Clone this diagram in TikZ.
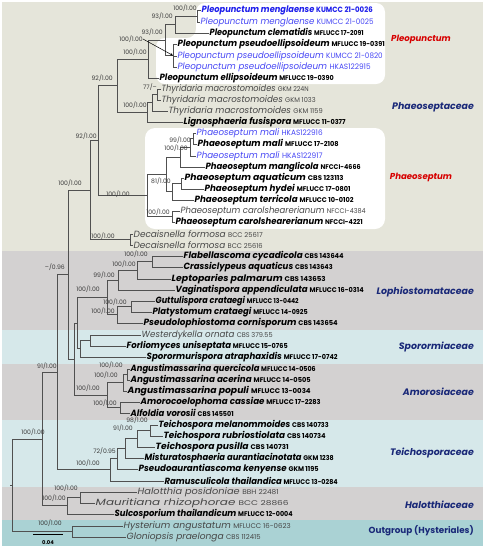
\documentclass[tikz,border=0pt]{standalone}
\usepackage{fontspec}
\usepackage{graphicx}
\setmainfont{Poppins}
\usetikzlibrary{arrows.meta}
\definecolor{bandbeige}{RGB}{229,229,218}
\definecolor{bandgray}{RGB}{211,209,209}
\definecolor{bandblue}{RGB}{214,232,234}
\definecolor{bandteal}{RGB}{170,210,212}
\definecolor{brc}{RGB}{80,80,80}
\definecolor{bsc}{RGB}{60,60,60}
\definecolor{blueB}{RGB}{30,30,235}
\definecolor{blueN}{RGB}{70,70,245}
\definecolor{grayt}{RGB}{70,70,70}
\definecolor{redc}{RGB}{215,0,0}
\definecolor{navy}{RGB}{25,40,120}
\newcommand\Sp[2]{\textit{#1} {\fontsize{6.8}{8}\selectfont #2}}
\newcommand\SpB[2]{\textit{#1} {\fontsize{7.6}{8}\selectfont #2}}
\newcommand\Fit[2]{\resizebox{#1pt}{\height}{#2}}
\begin{document}
\begin{tikzpicture}[x=1pt,y=-1pt,
  br/.style={draw=brc, line width=0.75pt},
  lf/.style={anchor=west, inner sep=0.5pt, font=\fontsize{9}{10}\selectfont},
  lfb/.style={lf, font=\fontsize{9}{10}\selectfont\bfseries},
  lfblue/.style={lf, text=blueN},
  lfblueb/.style={lfb, text=blueB},
  lfgray/.style={lf, text=grayt},
  bs/.style={anchor=east, inner sep=0pt, font=\fontsize{6.1}{7}\selectfont, text=bsc},
  fam/.style={anchor=east, inner sep=0pt, font=\fontsize{9.4}{10}\selectfont\bfseries\itshape, text=navy},
  gen/.style={inner sep=0pt, font=\fontsize{8.6}{10}\selectfont\bfseries\itshape, text=redc}]
\useasboundingbox (0,0) rectangle (487,550);
% background bands
\fill[white] (0,0) rectangle (487,550);
\fill[bandbeige] (2,2) rectangle (483,251);
\fill[bandgray] (2,251) rectangle (483,330);
\fill[bandblue] (2,330) rectangle (483,364);
\fill[bandgray] (2,364) rectangle (483,420);
\fill[bandblue] (2,420) rectangle (483,487);
\fill[bandgray] (2,487) rectangle (483,520);
\fill[bandteal] (2,520) rectangle (483,546);
% white highlight boxes
\fill[white, rounded corners=9pt] (196,3) -- (385,3) -- (385,84) -- (156,84) -- (156,38) -- (196,38) -- cycle;
\fill[white, rounded corners=10pt] (145,128) rectangle (385,229);

% leaves
\node[lfblueb] (l1) at (201,10) {\Fit{171}{\SpB{Pleopunctum menglaense}{KUMCC 21-0026}}};
\node[lfblue] (l2) at (200,22) {\Fit{173}{\SpB{Pleopunctum menglaense}{KUMCC 21-0025}}};
\node[lfb] (l3) at (209,33) {\Fit{154}{\Sp{Pleopunctum clematidis}{MFLUCC 17-2091}}};
\node[lfb] (l4) at (177,44) {\Fit{207}{\Sp{Pleopunctum pseudoellipsoideum}{MFLUCC 19-0391}}};
\node[lfblue] (l5) at (177,56) {\Fit{205}{\SpB{Pleopunctum pseudoellipsoideum}{KUMCC 21-0820}}};
\node[lfblue] (l6) at (177,67) {\Fit{193}{\SpB{Pleopunctum pseudoellipsoideum}{HKAS122915}}};
\node[lfb] (l7) at (159,78) {\Fit{174}{\Sp{Pleopunctum ellipsoideum}{MFLUCC 19-0390}}};
\node[lfgray] (l8) at (161,89) {\Fit{147}{\Sp{Thyridaria macrostomoides}{GKM 224N}}};
\node[lfgray] (l9) at (161,100) {\Fit{154}{\Sp{Thyridaria macrostomoides}{GKM 1033}}};
\node[lfgray] (l10) at (168,111) {\Fit{154}{\Sp{Thyridaria macrostomoides}{GKM 1159}}};
\node[lfb] (l11) at (183,122) {\Fit{162}{\Sp{Lignosphaeria fusispora}{MFLUCC 11-0377}}};
\node[lfblue] (l12) at (196,133) {\Fit{126}{\SpB{Phaeoseptum mali}{HKAS122916}}};
\node[lfb] (l13) at (197,144) {\Fit{141}{\Sp{Phaeoseptum mali}{MFLUCC 17-2108}}};
\node[lfblue] (l14) at (196,156) {\Fit{126}{\SpB{Phaeoseptum mali}{HKAS122917}}};
\node[lfb] (l15) at (205,167) {\Fit{155}{\Sp{Phaeoseptum manglicola}{NFCCI-4666}}};
\node[lfb] (l16) at (184,178) {\Fit{159}{\Sp{Phaeoseptum aquaticum}{CBS 123113}}};
\node[lfb] (l17) at (204,189) {\Fit{146}{\Sp{Phaeoseptum hydei}{MFLUCC 17-0801}}};
\node[lfb] (l18) at (194,200) {\Fit{159}{\Sp{Phaeoseptum terricola}{MFLUCC 10-0102}}};
\node[lfgray] (l19) at (180,211) {\Fit{185}{\Sp{Phaeoseptum carolshearerianum}{NFCCI-4384}}};
\node[lfb] (l20) at (175,222) {\Fit{187}{\Sp{Phaeoseptum carolshearerianum}{NFCCI-4221}}};
\node[lfgray] (l21) at (133,234) {\Fit{129}{\Sp{Decaisnella formosa}{BCC 25617}}};
\node[lfgray] (l22) at (133,245) {\Fit{129}{\Sp{Decaisnella formosa}{BCC 25616}}};
\node[lfb] (l23) at (183,256) {\Fit{160}{\Sp{Flabellascoma cycadicola}{CBS 143644}}};
\node[lfb] (l24) at (183,267) {\Fit{149}{\Sp{Crassiclypeus aquaticus}{CBS 143643}}};
\node[lfb] (l25) at (171,279) {\Fit{154}{\Sp{Leptoparies palmarum}{CBS 143653}}};
\node[lfb] (l26) at (175,290) {\Fit{188}{\Sp{Vaginatispora appendiculata}{MFLUCC 16-0314}}};
\node[lfb] (l27) at (155,301) {\Fit{143}{\Sp{Guttulispora crataegi}{MFLUCC 13-0442}}};
\node[lfb] (l28) at (152,312) {\Fit{155}{\Sp{Platystomum crataegi}{MFLUCC 14-0925}}};
\node[lfb] (l29) at (143,323) {\Fit{194}{\Sp{Pseudolophiostoma cornisporum}{CBS 143654}}};
\node[lfgray] (l30) at (141,335) {\Fit{131}{\Sp{Westerdykella ornata}{CBS 379.55}}};
\node[lfb] (l31) at (126,346) {\Fit{161}{\Sp{Forliomyces uniseptata}{MFLUCC 15-0765}}};
\node[lfb] (l32) at (146,357) {\Fit{191}{\Sp{Sporormurispora atraphaxidis}{MFLUCC 17-0742}}};
\node[lfb] (l33) at (130,369) {\Fit{185}{\Sp{Angustimassarina quercicola}{MFLUCC 14-0506}}};
\node[lfb] (l34) at (130,380) {\Fit{180}{\Sp{Angustimassarina acerina}{MFLUCC 14-0505}}};
\node[lfb] (l35) at (127,391) {\Fit{183}{\Sp{Angustimassarina populi}{MFLUCC 13-0034}}};
\node[lfb] (l36) at (140,402) {\Fit{180}{\Sp{Amorocoelophoma cassiae}{MFLUCC 17-2283}}};
\node[lfb] (l37) at (130,413) {\Fit{103}{\Sp{Alfoldia vorosii}{CBS 145501}}};
\node[lfb] (l38) at (158,425) {\Fit{170}{\Sp{Teichospora melanommoides}{CBS 140733}}};
\node[lfb] (l39) at (163,436) {\Fit{162}{\Sp{Teichospora rubriostiolata}{CBS 140734}}};
\node[lfb] (l40) at (155,447) {\Fit{133}{\Sp{Teichospora pusilla}{CBS 140731}}};
\node[lfb] (l41) at (144,458) {\Fit{189}{\Sp{Misturatosphaeria aurantiacinotata}{GKM 1238}}};
\node[lfb] (l42) at (138,469) {\Fit{180}{\Sp{Pseudoaurantiascoma kenyense}{GKM 1195}}};
\node[lfb] (l43) at (164,481) {\Fit{173}{\Sp{Ramusculicola thailandica}{MFLUCC 13-0284}}};
\node[lfgray] (l44) at (137,492) {\Fit{141}{\Sp{Halotthia posidoniae}{BBH 22481}}};
\node[lfgray] (l45) at (95,503) {\Fit{193}{\Sp{Mauritiana rhizophorae}{BCC 28866}}};
\node[lfb] (l46) at (114,514) {\Fit{178}{\Sp{Sulcosporium thailandicum}{MFLUCC 12-0004}}};
\node[lfgray] (l47) at (123,526) {\Fit{167}{\Sp{Hysterium angustatum}{MFLUCC 16-0623}}};
\node[lfgray] (l48) at (126,537) {\Fit{134}{\Sp{Gloniopsis praelonga}{CBS 112415}}};

% internal nodes
\coordinate (p1) at (197,16);
\coordinate (p2) at (175,24.5);
\coordinate (ps2) at (173,55.5);
\coordinate (p3) at (165,40);
\coordinate (P) at (148,59);
\coordinate (t1) at (157,94.5);
\coordinate (t2) at (152,102.75);
\coordinate (T) at (147,112.4);
\coordinate (Q) at (117,85.7);
\coordinate (m1) at (193,138.5);
\coordinate (m2) at (190,147.25);
\coordinate (m3) at (180,157.1);
\coordinate (a1) at (181,183.5);
\coordinate (a2) at (172,191.75);
\coordinate (mm) at (166,174.4);
\coordinate (c1) at (172,216.5);
\coordinate (S) at (147,195.45);
\coordinate (R) at (98,140.6);
\coordinate (dc) at (130,239.5);
\coordinate (N90) at (90,190);
\coordinate (A) at (152,261.5);
\coordinate (B) at (137,270.25);
\coordinate (C) at (118,280.1);
\coordinate (D) at (131,306.5);
\coordinate (E) at (117,314.75);
\coordinate (F) at (107,297.4);
\coordinate (s1) at (90,340.5);
\coordinate (s2) at (80,348.75);
\coordinate (N77) at (77,323.1);
\coordinate (am1) at (127,374.5);
\coordinate (am2) at (123,382.75);
\coordinate (am3) at (120,407.5);
\coordinate (Am) at (107,395.1);
\coordinate (N74) at (74,359.1);
\coordinate (N68) at (68,274.6);
\coordinate (te1) at (150,430.5);
\coordinate (te2) at (137,438.75);
\coordinate (te3) at (125,448.4);
\coordinate (te4) at (117,458.7);
\coordinate (te5) at (110,469.8);
\coordinate (N57) at (57,372.2);
\coordinate (h1) at (80,497.5);
\coordinate (h2) at (67,505.75);
\coordinate (Ning) at (42.7,439);
\coordinate (out) at (72,531.5);
\coordinate (root) at (12.7,485.2);
\coordinate (rstub) at (10,485.2);

% branches
\draw[br] (p1) |- (l1.west); \draw[br] (p1) |- (l2.west);
\draw[br] (p2) |- (p1); \draw[br] (p2) |- (l3.west);
\draw[br] (ps2) |- (l4.west); \draw[br] (ps2) |- (l5.west); \draw[br] (ps2) |- (l6.west);
\draw[br] (p3) |- (p2); \draw[br] (p3) |- (ps2);
\draw[br] (P) |- (p3); \draw[br] (P) |- (l7.west);
\draw[br] (t1) |- (l8.west); \draw[br] (t1) |- (l9.west);
\draw[br] (t2) |- (t1); \draw[br] (t2) |- (l10.west);
\draw[br] (T) |- (t2); \draw[br] (T) |- (l11.west);
\draw[br] (Q) |- (P); \draw[br] (Q) |- (T);
\draw[br] (m1) |- (l12.west); \draw[br] (m1) |- (l13.west);
\draw[br] (m2) |- (m1); \draw[br] (m2) |- (l14.west);
\draw[br] (m3) |- (m2); \draw[br] (m3) |- (l15.west);
\draw[br] (a1) |- (l16.west); \draw[br] (a1) |- (l17.west);
\draw[br] (a2) |- (a1); \draw[br] (a2) |- (l18.west);
\draw[br] (mm) |- (m3); \draw[br] (mm) |- (a2);
\draw[br] (c1) |- (l19.west); \draw[br] (c1) |- (l20.west);
\draw[br] (S) |- (mm); \draw[br] (S) |- (c1);
\draw[br] (R) |- (Q); \draw[br] (R) |- (S);
\draw[br] (dc) |- (l21.west); \draw[br] (dc) |- (l22.west);
\draw[br] (N90) |- (R); \draw[br] (N90) |- (dc);
\draw[br] (A) |- (l23.west); \draw[br] (A) |- (l24.west);
\draw[br] (B) |- (A); \draw[br] (B) |- (l25.west);
\draw[br] (C) |- (B); \draw[br] (C) |- (l26.west);
\draw[br] (D) |- (l27.west); \draw[br] (D) |- (l28.west);
\draw[br] (E) |- (D); \draw[br] (E) |- (l29.west);
\draw[br] (F) |- (C); \draw[br] (F) |- (E);
\draw[br] (s1) |- (l30.west); \draw[br] (s1) |- (l31.west);
\draw[br] (s2) |- (s1); \draw[br] (s2) |- (l32.west);
\draw[br] (N77) |- (F); \draw[br] (N77) |- (s2);
\draw[br] (am1) |- (l33.west); \draw[br] (am1) |- (l34.west);
\draw[br] (am2) |- (am1); \draw[br] (am2) |- (l35.west);
\draw[br] (am3) |- (l36.west); \draw[br] (am3) |- (l37.west);
\draw[br] (Am) |- (am2); \draw[br] (Am) |- (am3);
\draw[br] (N74) |- (N77); \draw[br] (N74) |- (Am);
\draw[br] (N68) |- (N90); \draw[br] (N68) |- (N74);
\draw[br] (te1) |- (l38.west); \draw[br] (te1) |- (l39.west);
\draw[br] (te2) |- (te1); \draw[br] (te2) |- (l40.west);
\draw[br] (te3) |- (te2); \draw[br] (te3) |- (l41.west);
\draw[br] (te4) |- (te3); \draw[br] (te4) |- (l42.west);
\draw[br] (te5) |- (te4); \draw[br] (te5) |- (l43.west);
\draw[br] (N57) |- (N68); \draw[br] (N57) |- (te5);
\draw[br] (h1) |- (l44.west); \draw[br] (h1) |- (l45.west);
\draw[br] (h2) |- (h1); \draw[br] (h2) |- (l46.west);
\draw[br] (Ning) |- (N57); \draw[br] (Ning) |- (h2);
\draw[br] (out) |- (l47.west); \draw[br] (out) |- (l48.west);
\draw[br] (root) |- (Ning); \draw[br] (root) |- (out);
\draw[br] (rstub) -- (root);

% support values
\node[bs] (bp1) at (197,8) {100/1.00};
\node[bs] (bp2) at (173,16) {93/1.00};
\node[bs] (bp3) at (163,32) {93/1.00};
\node[bs] (bps2) at (143,39) {100/1.00};
\draw[-{Stealth[length=3pt,width=2.4pt]}, line width=0.5pt, black] (bps2.east) -- (ps2);
\node[bs] (bP) at (147,52) {100/1.00};
\node[bs] (bt1) at (157,87) {77/--};
\node[bs] (bT) at (147,105) {100/1.00};
\node[bs] (bQ) at (113,78) {92/1.00};
\node[bs] (bm1) at (191,140) {99/1.00};
\node[bs] (bm3) at (188,148) {100/1.00};
\node[bs] (ba2) at (171,181) {81/1.00};
\node[bs] (bc1) at (170,212) {100/1.00};
\node[bs] (bS) at (130,194) {100/1.00};
\node[bs] (bR) at (97,136) {92/1.00};
\node[bs] (bN90) at (82,183) {100/1.00};
\node[bs] (bdc) at (115,236) {100/1.00};
\node[bs] (bA) at (148,254) {100/1.00};
\node[bs] (bB) at (136,264) {100/1.00};
\node[bs] (bC) at (115,275) {99/1.00};
\node[bs] (bF) at (100,289) {100/1.00};
\node[bs] (bD) at (127,302) {100/1.00};
\node[bs] (bE) at (115,311) {100/1.00};
\node[bs] (bam1) at (123,365) {100/1.00};
\node[bs] (bam2) at (118,375) {100/1.00};
\node[bs] (bAm) at (100,388) {100/1.00};
\node[bs] (bam3) at (117,403) {100/1.00};
\node[bs] (bte1) at (148,420) {98/1.00};
\node[bs] (bte2) at (133,428) {91/1.00};
\node[bs] (bte3) at (116,451) {72/0.95};
\node[bs] (bte5) at (100,463) {100/1.00};
\node[bs] (bN68) at (65,267) {--/0.96};
\node[bs] (bN57) at (57,366) {91/1.00};
\node[bs] (bh1) at (78,488) {100/1.00};
\node[bs] (bh2) at (66,498) {100/1.00};
\node[bs] (bNing) at (45,432) {100/1.00};
\node[bs] (bout) at (62,523) {100/1.00};

% scale bar
\coordinate (sb1) at (33,534); \coordinate (sb2) at (63,534);
\draw[black, line width=0.7pt] (sb1) -- (sb2);
\node[inner sep=0pt, font=\fontsize{5.2}{6}\selectfont\bfseries] (sbl) at (48,543) {0.04};

% clade labels
\node[gen] (gPleo) at (421,39) {Pleopunctum};
\node[gen] (gPhae) at (421,177) {Phaeoseptum};
\node[fam] (fPhae) at (474,107) {Phaeoseptaceae};
\node[fam] (fLoph) at (474,292) {Lophiostomataceae};
\node[fam] (fSpor) at (474,347) {Sporormiaceae};
\node[fam] (fAmor) at (474,392) {Amorosiaceae};
\node[fam] (fTeic) at (474,453) {Teichosporaceae};
\node[fam] (fHalo) at (474,505) {Halotthiaceae};
\node[fam, font=\fontsize{8.8}{10}\selectfont\bfseries] (fOut) at (474,531) {Outgroup (Hysteriales)};
\end{tikzpicture}
\end{document}
